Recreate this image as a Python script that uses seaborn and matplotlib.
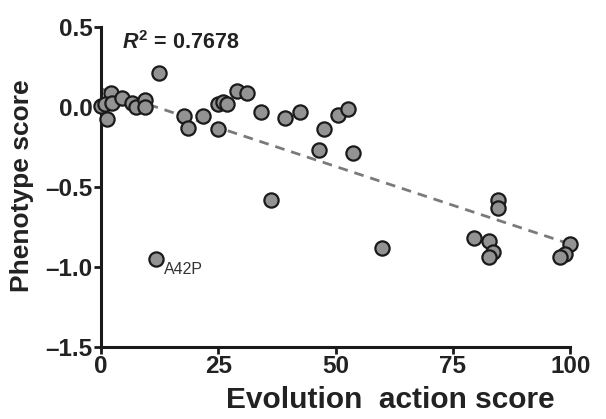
import numpy as np
import pandas as pd
import matplotlib
matplotlib.use("Agg")
import matplotlib.pyplot as plt
import seaborn as sns

# Values
evo_score = [12.4, 2.1, 0.0, 0.9, 2.3, 1.2, 4.4, 6.5, 7.4, 9.4, 9.4,
             17.7, 18.6, 21.8, 24.9, 24.9, 25.9, 26.9, 29.0, 31.1, 34.1,
             39.2, 42.4, 46.4, 47.5, 50.5, 52.7, 53.7, 36.2, 59.9,
             84.6, 84.7, 79.4, 82.6, 83.6, 82.6, 100.0, 98.9, 97.9]
pheno_score = [0.21, 0.086, 0.006, 0.02, 0.027, -0.077, 0.054, 0.023, -0.004, 0.04, -0.004,
               -0.056, -0.13, -0.056, -0.14, 0.017, 0.033, 0.019, 0.10, 0.086, -0.03,
               -0.07, -0.033, -0.27, -0.14, -0.048, -0.015, -0.29, -0.58, -0.88,
               -0.58, -0.63, -0.82, -0.84, -0.91, -0.94, -0.86, -0.92, -0.94]
outlier_x = [11.7]
outlier_y = [-0.95]
outlier_label = "A42P"
r2_text = "0.7678"

x_ticks = [0, 25, 50, 75, 100]
y_ticks = [-1.5, -1.0, -0.5, 0.0, 0.5]

df = pd.DataFrame({"evo": evo_score + outlier_x, "pheno": pheno_score + outlier_y})

sns.set_style("ticks")
plt.rcParams["font.family"] = ["Liberation Sans", "DejaVu Sans"]
plt.rcParams["mathtext.fontset"] = "custom"
plt.rcParams["mathtext.rm"] = "Liberation Sans:bold"
plt.rcParams["mathtext.it"] = "Liberation Sans:italic:bold"
plt.rcParams["mathtext.bf"] = "Liberation Sans:bold"

fig = plt.figure(figsize=(6.06, 4.19), dpi=100)
ax = fig.add_axes([0.167, 0.172, 0.774, 0.764])

# Linear fit over all points
sns.regplot(data=df, x="evo", y="pheno", ax=ax, scatter=False, ci=None,
            truncate=True,
            line_kws={"color": "#7a7a7a", "lw": 2, "ls": (0, (3.5, 2.5))})

pt_style = dict(s=105, color="#939393", edgecolor="#1a1a1a", linewidth=1.6,
                clip_on=False, zorder=3)
sns.scatterplot(data=df, x="evo", y="pheno", ax=ax, **pt_style)
ax.text(outlier_x[0] + 1.6, outlier_y[0] - 0.065, outlier_label,
        fontsize=11.5, color="#333333", va="center", ha="left")

ax.text(4.5, 0.40, r"$R^{2}$ = " + r2_text, fontsize=15.5, fontweight="bold",
        va="center", ha="left", color="#222222")

ax.set_xlim(0, 100)
ax.set_ylim(-1.5, 0.5)
ax.set_xticks(x_ticks)
ax.set_yticks(y_ticks)
ax.set_xticklabels([str(t) for t in x_ticks])
ax.set_yticklabels([f"{t:.1f}".replace("-", "\u2013") for t in y_ticks])
for lab in ax.get_xticklabels() + ax.get_yticklabels():
    lab.set_fontweight("bold")
ax.tick_params(axis="both", labelsize=17.5, width=2, length=5, color="#1a1a1a",
               labelcolor="#222222", pad=1)

ax.set_xlabel("Evolution  action score", fontsize=21.5, fontweight="bold",
              color="#222222", va="center")
ax.xaxis.set_label_coords(0.616, -0.166)
ax.set_ylabel("Phenotype score", fontsize=19, fontweight="bold",
              color="#222222", va="center")
ax.yaxis.set_label_coords(-0.168, 0.505)

sns.despine(ax=ax)
for side in ["left", "bottom"]:
    ax.spines[side].set_linewidth(2.2)
    ax.spines[side].set_color("#1a1a1a")

fig.savefig("out.png", dpi=100)
